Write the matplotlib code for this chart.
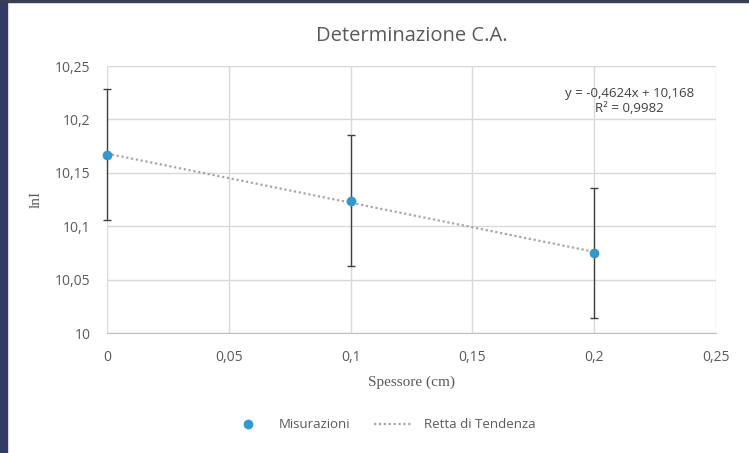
import numpy as np
import matplotlib
matplotlib.use("Agg")
import matplotlib.pyplot as plt
from matplotlib.ticker import FuncFormatter, MultipleLocator
from matplotlib.patches import Rectangle
from matplotlib.lines import Line2D

spessore = [0.0, 0.1, 0.2]
lnI = [10.167, 10.124, 10.075]
errori = [0.061, 0.061, 0.061]
equazione = "y = -0,4624x + 10,168\nR² = 0,9982"

fig = plt.figure(figsize=(7.49, 4.53), dpi=100)
# bordo scuro a sinistra (sfondo della slide)
fig.patches.append(Rectangle((0, 0), 0.009, 1, transform=fig.transFigure,
                             color="#323a66", zorder=0))
fig.patches.append(Rectangle((0, 0.996), 1, 0.004, transform=fig.transFigure,
                             color="#3a3f55", zorder=0))

ax = fig.add_axes([0.1429, 0.2649, 0.8131, 0.5894])

fit = np.polyfit(spessore, lnI, 1)
xt = np.array([spessore[0], spessore[-1]])
ax.plot(xt, np.polyval(fit, xt), linestyle=(0, (1, 1.2)), color="#a6a6a6",
        linewidth=1.6, zorder=2)

eb = ax.errorbar(spessore, lnI, yerr=errori, fmt="o", color="#3399cc",
                 markersize=6, ecolor="#404040", elinewidth=1, capsize=3,
                 capthick=1, zorder=3)
for art in eb.lines[0:1] + tuple(eb.lines[1]) + tuple(eb.lines[2]):
    art.set_clip_on(False)

ax.set_xlim(0, 0.25)
ax.set_ylim(10, 10.25)
ax.xaxis.set_major_locator(MultipleLocator(0.05))
ax.yaxis.set_major_locator(MultipleLocator(0.05))
fmt = FuncFormatter(lambda v, p: ("%g" % round(v, 4)).replace(".", ","))
ax.xaxis.set_major_formatter(fmt)
ax.yaxis.set_major_formatter(fmt)

ax.grid(True, color="#d9d9d9", linewidth=1)
ax.set_axisbelow(True)
for s in ["top", "right", "left"]:
    ax.spines[s].set_visible(False)
ax.spines["bottom"].set_color("#bfbfbf")
ax.tick_params(axis="y", length=0, labelsize=10, colors="#595959", pad=12)
ax.tick_params(axis="x", length=0, labelsize=10, colors="#595959", pad=12)
for lab in ax.get_xticklabels() + ax.get_yticklabels():
    lab.set_fontfamily("Open Sans")

ax.set_title("Determinazione C.A.", fontsize=14.5, color="#595959",
             family="Open Sans", pad=18)
ax.set_xlabel("Spessore (cm)", fontsize=11, color="#595959",
              family="Liberation Serif", labelpad=8)
ax.set_ylabel("lnI", fontsize=11, color="#595959",
              family="Liberation Serif")
ax.yaxis.set_label_coords(-0.105, 0.5)

ax.text(0.2145, 10.217, equazione, ha="center", va="center", fontsize=9.5,
        color="#404040", family="Open Sans", linespacing=1.25)

handles = [
    Line2D([], [], marker="o", linestyle="none", color="#3399cc", markersize=6),
    Line2D([], [], linestyle=(0, (1, 1.2)), color="#a6a6a6", linewidth=1.6),
]
leg = fig.legend(handles, ["Misurazioni", "Retta di Tendenza"], loc="center",
                 bbox_to_anchor=(0.51, 0.062), ncol=2, frameon=False,
                 fontsize=9.5, handlelength=3, columnspacing=1.8)
for t in leg.get_texts():
    t.set_color("#595959")
    t.set_fontfamily("Open Sans")

fig.savefig("out.png", dpi=100)
